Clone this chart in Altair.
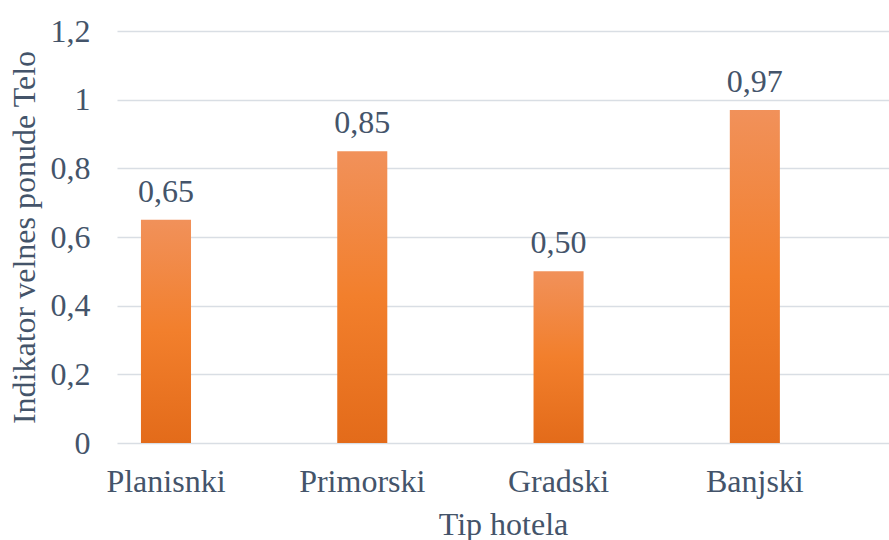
import altair as alt
import pandas as pd

categories = ["Planisnki", "Primorski", "Gradski", "Banjski"]
values = [0.65, 0.85, 0.50, 0.97]
y_ticks = [0, 0.2, 0.4, 0.6, 0.8, 1.0, 1.2]

df = pd.DataFrame({"tip": categories, "v": values})

FONT = "Liberation Serif"
TXT = "#44546A"
GRID = "#D9DEE4"
FS = 32

x_enc = alt.X(
    "tip:N",
    sort=categories,
    title="Tip hotela",
    scale=alt.Scale(paddingInner=0.745, paddingOuter=0.339, align=0.18),
    axis=alt.Axis(
        labelAngle=0, domain=False, ticks=False, labelPadding=23, grid=False,
        labelFont=FONT, labelFontSize=FS, labelColor=TXT,
        titleFont=FONT, titleFontSize=FS, titleColor=TXT, titleFontWeight="normal",
        titlePadding=12,
    ),
)
y_enc = alt.Y(
    "v:Q",
    title="Indikator velnes ponude Telo",
    scale=alt.Scale(domain=[0, 1.2], nice=False),
    axis=alt.Axis(
        values=y_ticks, domain=False, ticks=False, labelPadding=27,
        labelExpr="replace(format(datum.value, '.1~f'), '.', ',')",
        labelFont=FONT, labelFontSize=FS, labelColor=TXT,
        titleFont=FONT, titleFontSize=FS, titleColor=TXT, titleFontWeight="normal",
        titlePadding=9,
        grid=True, gridColor=GRID, gridWidth=1.5,
    ),
)

grad = alt.Gradient(
    gradient="linear", x1=0, y1=0, x2=0, y2=1,
    stops=[
        alt.GradientStop(offset=0, color="#F1915A"),
        alt.GradientStop(offset=0.5, color="#F27F2C"),
        alt.GradientStop(offset=1, color="#E36B1A"),
    ],
)

base = alt.Chart(df).transform_calculate(
    lab="replace(format(datum.v, '.2f'), '.', ',')"
).encode(x=x_enc, y=y_enc)

bars = base.mark_bar(color=grad)
labels = base.mark_text(
    font=FONT, fontSize=FS, color=TXT, baseline="alphabetic", dy=-18
).encode(text="lab:N")

chart = (
    alt.layer(bars, labels)
    .properties(
        width=772, height=412,
        background="white",
        autosize=alt.AutoSizeParams(type="none"),
        padding={"left": 117, "top": 31, "right": 0, "bottom": 97},
    )
    .configure(font=FONT)
    .configure_view(strokeWidth=0, stroke="transparent")
    .configure_axis(domain=False)
)

chart.save("out.html", embed_options={"renderer": "svg", "actions": False})
